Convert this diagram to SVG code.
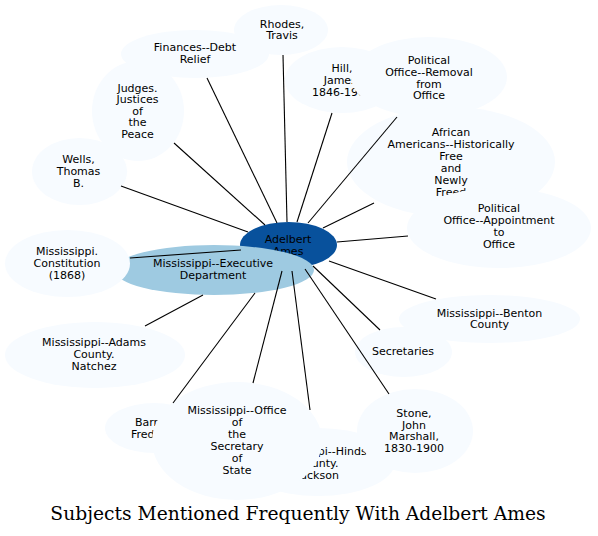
<svg xmlns="http://www.w3.org/2000/svg" width="598" height="536" viewBox="0 0 598 536">
<style>
.n{fill:#f7fbff;stroke:none}
.c{fill:#08519c;stroke:none}
.x{fill:#9ecae1;stroke:none}
text{font-family:"DejaVu Sans",sans-serif;font-size:11px;fill:#000;text-anchor:middle}
.t{font-family:"DejaVu Serif",serif;font-size:18.7px}
#edges line{stroke:#000;stroke-width:1.1}
</style>
<rect width="598" height="536" fill="#fff"/>
<g id="ames"><ellipse class="c" cx="288.5" cy="245" rx="48.5" ry="23"/><text x="288" y="243">Adelbert</text><text x="288" y="255">Ames</text></g>
<g id="exec"><ellipse class="x" cx="214" cy="270" rx="100" ry="25"/><text x="213" y="267">Mississippi--Executive</text><text x="213" y="279">Department</text></g>
<g id="constitution"><ellipse class="n" cx="67.5" cy="263.5" rx="62.5" ry="33.5"/><text x="67" y="255">Mississippi.</text><text x="67" y="267">Constitution</text><text x="67" y="279">(1868)</text></g>
<g id="wells"><ellipse class="n" cx="79.5" cy="171.5" rx="47.5" ry="33.5"/><text x="78.5" y="162.5">Wells,</text><text x="78.5" y="174.5">Thomas</text><text x="78.5" y="186.5">B.</text></g>
<g id="judges"><ellipse class="n" cx="138" cy="111" rx="46" ry="50"/><text x="137.5" y="91.5">Judges.</text><text x="137.5" y="103">Justices</text><text x="137.5" y="114.5">of</text><text x="137.5" y="126">the</text><text x="137.5" y="138">Peace</text></g>
<g id="finances"><ellipse class="n" cx="195" cy="54" rx="74" ry="24"/><text x="195" y="51">Finances--Debt</text><text x="195" y="62.5">Relief</text></g>
<g id="rhodes"><ellipse class="n" cx="281" cy="30" rx="47" ry="25"/><text x="282" y="27.5">Rhodes,</text><text x="282" y="39">Travis</text></g>
<g id="hill"><ellipse class="n" cx="342" cy="80" rx="57" ry="33"/><text x="342" y="71.5">Hill,</text><text x="342" y="84">James,</text><text x="342" y="96">1846-1903</text></g>
<g id="removal"><ellipse class="n" cx="429" cy="77" rx="78" ry="40"/><text x="429" y="63.5">Political</text><text x="429" y="75.5">Office--Removal</text><text x="429" y="87.5">from</text><text x="429" y="99">Office</text></g>
<g id="african"><ellipse class="n" cx="451" cy="162" rx="104" ry="55"/><text x="451" y="136">African</text><text x="451" y="148">Americans--Historically</text><text x="451" y="160">Free</text><text x="451" y="172">and</text><text x="451" y="184">Newly</text><text x="451" y="196">Freed</text></g>
<g id="appointment"><ellipse class="n" cx="499" cy="228" rx="92" ry="40"/><text x="499" y="211.5">Political</text><text x="499" y="223.5">Office--Appointment</text><text x="499" y="235.5">to</text><text x="499" y="247.5">Office</text></g>
<g id="benton"><ellipse class="n" cx="489.5" cy="319" rx="90.5" ry="24"/><text x="489.5" y="316.5">Mississippi--Benton</text><text x="489.5" y="328">County</text></g>
<g id="secretaries"><ellipse class="n" cx="403.5" cy="352" rx="48.5" ry="25"/><text x="403" y="355">Secretaries</text></g>
<g id="adams"><ellipse class="n" cx="95" cy="355" rx="90" ry="33"/><text x="94" y="346">Mississippi--Adams</text><text x="94" y="357.5">County.</text><text x="94" y="369.5">Natchez</text></g>
<g id="barr"><ellipse class="n" cx="154" cy="428" rx="49" ry="25"/><text x="135" y="425.5" style="text-anchor:start">Barr</text><text x="131" y="437.5" style="text-anchor:start">Fred</text></g>
<g id="hinds"><ellipse class="n" cx="318" cy="462" rx="77" ry="34"/><text x="318" y="455">Mississippi--Hinds</text><text x="318" y="467">County.</text><text x="318" y="478.5">Jackson</text></g>
<g id="stone"><ellipse class="n" cx="415" cy="431" rx="58" ry="42"/><text x="414" y="417">Stone,</text><text x="414" y="428.5">John</text><text x="414" y="440">Marshall,</text><text x="414" y="452">1830-1900</text></g>
<g id="secretary-of-state"><ellipse class="n" cx="237" cy="441" rx="85" ry="59"/><text x="237" y="413.5">Mississippi--Office</text><text x="237" y="425.5">of</text><text x="237" y="437.5">the</text><text x="237" y="450">Secretary</text><text x="237" y="462">of</text><text x="237" y="474">State</text></g>
<g id="edges">
<line x1="287" y1="222" x2="283" y2="55"/>
<line x1="277" y1="223" x2="207" y2="78"/>
<line x1="265" y1="225" x2="174" y2="143"/>
<line x1="248" y1="232" x2="121" y2="186"/>
<line x1="241" y1="250" x2="130" y2="258"/>
<line x1="203" y1="295" x2="145" y2="326"/>
<line x1="255" y1="293" x2="173" y2="403"/>
<line x1="282" y1="271" x2="253" y2="383"/>
<line x1="292" y1="271" x2="310" y2="410"/>
<line x1="305" y1="269" x2="389" y2="394"/>
<line x1="313" y1="266" x2="380" y2="330"/>
<line x1="329" y1="261" x2="436" y2="299"/>
<line x1="337" y1="242" x2="408" y2="236"/>
<line x1="323" y1="228" x2="374" y2="203"/>
<line x1="308" y1="223" x2="397" y2="117"/>
<line x1="297" y1="222" x2="332" y2="113"/>
</g>
<text class="t" x="298" y="520">Subjects Mentioned Frequently With Adelbert Ames</text>
</svg>
